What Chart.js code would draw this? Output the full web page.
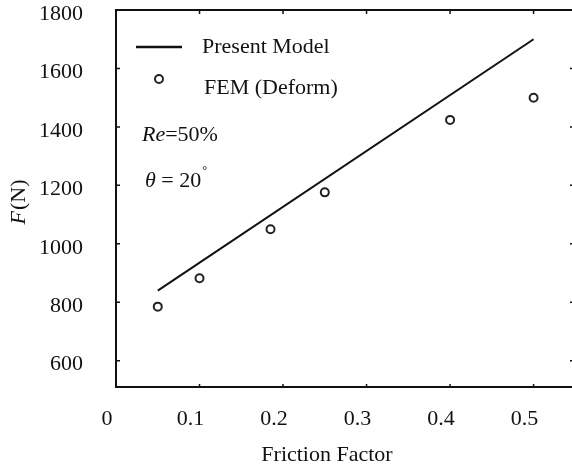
<!DOCTYPE html>
<html>
<head>
<meta charset="utf-8">
<script src="https://cdn.jsdelivr.net/npm/chart.js@4"></script>
<style>
  body { margin: 0; background: #fff; }
  #wrap { width: 572px; height: 465px; }
</style>
</head>
<body>
<div id="wrap"><canvas id="forceChart" width="572" height="465"></canvas></div>
<script>
// valores
const xTicks = [0, 0.1, 0.2, 0.3, 0.4, 0.5];
const yTicks = [600, 800, 1000, 1200, 1400, 1600, 1800];
const modelX = [0.05, 0.5];
const modelF = [840, 1700];
const femX = [0.05, 0.1, 0.185, 0.25, 0.4, 0.5];
const femF = [785, 882, 1050, 1176, 1424, 1500];

const FONT = "'Liberation Serif', 'Times New Roman', serif";
const INK = "#111";

function noPadding(s) {
  s.paddingTop = 0;
  s.paddingBottom = 0;
  s.paddingLeft = 0;
  s.paddingRight = 0;
}

// moldura, ticks internos, títulos, legenda e anotações
const framePlugin = {
  id: "frame",
  afterDraw(chart) {
    const { ctx, chartArea: a, scales } = chart;
    const sx = scales.x, sy = scales.y;
    ctx.save();
    ctx.strokeStyle = INK;
    ctx.lineWidth = 2;
    ctx.beginPath();
    ctx.moveTo(a.left - 1, a.top);
    ctx.lineTo(a.right, a.top);
    ctx.stroke();

    ctx.lineWidth = 1.5;
    ctx.beginPath();
    xTicks.forEach((v) => {
      const px = sx.getPixelForValue(v);
      ctx.moveTo(px, a.bottom);
      ctx.lineTo(px, a.bottom - 3);
      ctx.moveTo(px, a.top);
      ctx.lineTo(px, a.top + 4);
    });
    yTicks.forEach((v) => {
      const py = sy.getPixelForValue(v);
      if (py <= a.top + 2) return;
      ctx.moveTo(a.left, py);
      ctx.lineTo(a.left + 4, py);
      ctx.moveTo(a.right, py);
      ctx.lineTo(a.right - 2, py);
    });
    ctx.stroke();

    ctx.fillStyle = INK;
    ctx.textBaseline = "middle";

    // título do eixo x
    ctx.font = "22px " + FONT;
    ctx.textAlign = "center";
    ctx.fillText("Friction Factor", 327, 455);

    // título do eixo y: F(N)
    ctx.save();
    ctx.translate(19, 202);
    ctx.rotate(-Math.PI / 2);
    ctx.textAlign = "left";
    ctx.font = "italic 22px " + FONT;
    const wF = ctx.measureText("F").width;
    ctx.font = "22px " + FONT;
    const wN = ctx.measureText("(N)").width;
    const start = -(wF + 1 + wN) / 2;
    ctx.font = "italic 22px " + FONT;
    ctx.fillText("F", start, 0);
    ctx.font = "22px " + FONT;
    ctx.fillText("(N)", start + wF + 1, 0);
    ctx.restore();

    // legenda
    const model = chart.data.datasets[0];
    const fem = chart.data.datasets[1];
    ctx.textAlign = "left";
    ctx.strokeStyle = model.borderColor;
    ctx.lineWidth = 2.5;
    ctx.beginPath();
    ctx.moveTo(136, 47);
    ctx.lineTo(182, 47);
    ctx.stroke();
    ctx.font = "22px " + FONT;
    ctx.fillText(model.label, 202, 47);

    ctx.strokeStyle = fem.borderColor;
    ctx.lineWidth = fem.borderWidth;
    ctx.beginPath();
    ctx.arc(159, 79, fem.pointRadius, 0, Math.PI * 2);
    ctx.stroke();
    ctx.fillText(fem.label, 204, 88);

    // Re=50%
    ctx.font = "italic 22px " + FONT;
    ctx.fillText("Re", 142, 135);
    const wRe = ctx.measureText("Re").width;
    ctx.font = "22px " + FONT;
    ctx.fillText("=50%", 142 + wRe, 135);

    // θ = 20°
    ctx.font = "italic 22px " + FONT;
    ctx.fillText("\u03b8", 145, 181);
    let xx = 145 + ctx.measureText("\u03b8").width;
    ctx.font = "22px " + FONT;
    ctx.fillText(" = 20", xx, 181);
    xx += ctx.measureText(" = 20").width + 1;
    ctx.font = "12px " + FONT;
    ctx.fillText("\u00b0", xx, 171);

    ctx.restore();
  },
};

const forceCtx = document.getElementById("forceChart").getContext("2d");
const forceChart = new Chart(forceCtx, {
  type: "scatter",
  data: {
    datasets: [
      {
        label: "Present Model",
        data: modelX.map((x, i) => ({ x: x, y: modelF[i] })),
        showLine: true,
        borderColor: INK,
        borderWidth: 2,
        pointRadius: 0,
      },
      {
        label: "FEM (Deform)",
        data: femX.map((x, i) => ({ x: x, y: femF[i] })),
        showLine: false,
        pointRadius: 4,
        borderWidth: 2,
        borderColor: "#222",
        backgroundColor: "#fff",
      },
    ],
  },
  options: {
    responsive: false,
    animation: false,
    layout: { autoPadding: false, padding: { top: 10, right: 0, bottom: 0, left: 0 } },
    plugins: {
      legend: { display: false },
      tooltip: { enabled: false },
    },
    scales: {
      x: {
        type: "linear",
        min: 0,
        max: 0.546,
        afterBuildTicks: (s) => { s.ticks = xTicks.map((v) => ({ value: v })); },
        afterFit: (s) => { s.height = 78; noPadding(s); },
        grid: { drawOnChartArea: false, drawTicks: false },
        border: { display: true, width: 2, color: INK },
        ticks: {
          autoSkip: false,
          maxRotation: 0,
          padding: 19,
          labelOffset: -9,
          color: INK,
          font: { family: FONT, size: 22 },
          callback: (v) => String(v),
        },
      },
      y: {
        min: 510,
        max: 1800,
        afterBuildTicks: (s) => { s.ticks = yTicks.map((v) => ({ value: v })); },
        afterFit: (s) => { s.width = 116; noPadding(s); },
        grid: { drawOnChartArea: false, drawTicks: false },
        border: { display: true, width: 2, color: INK },
        ticks: {
          autoSkip: false,
          padding: 33,
          labelOffset: 4,
          color: INK,
          font: { family: FONT, size: 22 },
          callback: (v) => String(v),
        },
      },
    },
  },
  plugins: [framePlugin],
});
</script>
</body>
</html>
